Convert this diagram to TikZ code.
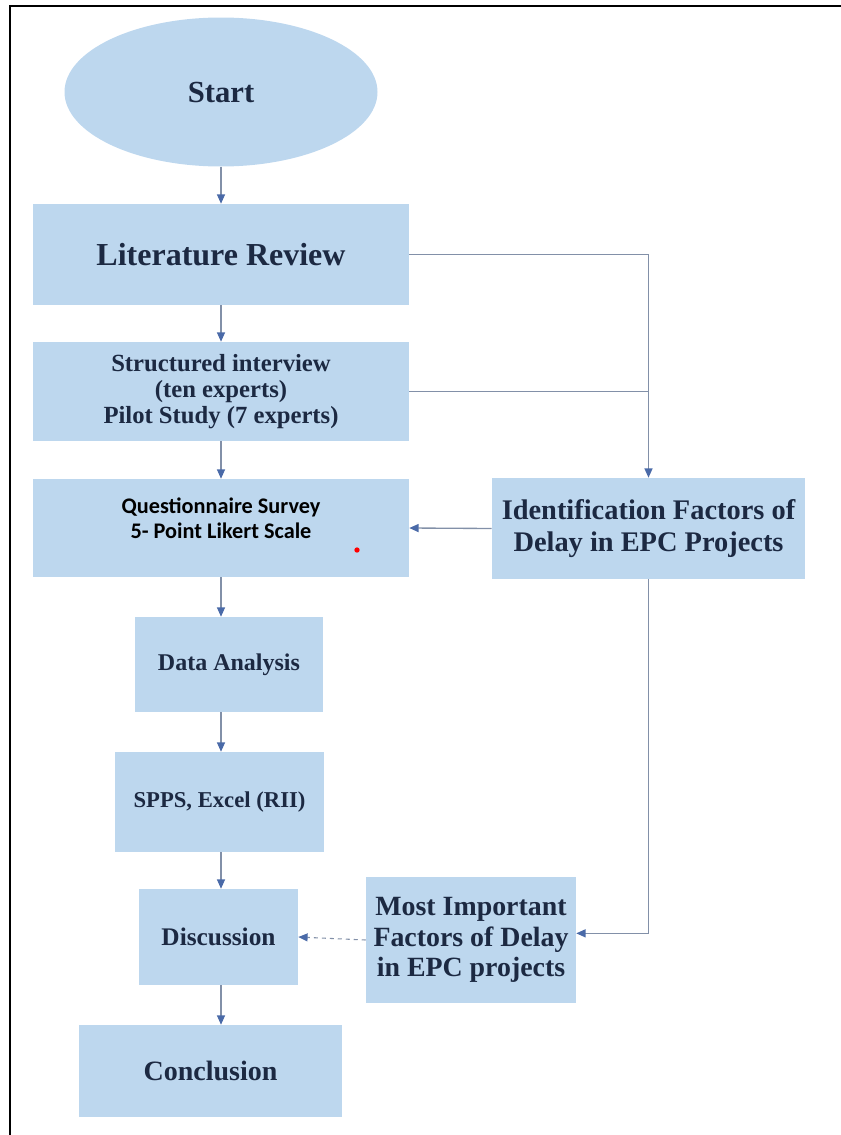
\documentclass[tikz,border=0pt]{standalone}
\usepackage{fontspec}
\setmainfont{Liberation Serif}
\newfontfamily\calibfont{Carlito}
\usetikzlibrary{shapes.geometric,arrows.meta}

\definecolor{boxblue}{HTML}{BDD7EE}
\definecolor{txtnavy}{HTML}{1C2942}
\definecolor{linegray}{HTML}{8290A8}
\definecolor{tipblue}{HTML}{4A6AA8}

\begin{document}
\begin{tikzpicture}[x=0.75pt, y=-0.75pt,
    stepbox/.style 2 args={rectangle, fill=boxblue, text=txtnavy, align=center, inner sep=0pt,
      minimum width=#1*\px, minimum height=#2*\px},
    flow/.style={draw=linegray, line width=1pt, -{Triangle[length=7pt, width=6pt, color=tipblue]}}]

      % Definitions
      \def\px{0.75pt}   % One pixel of the reference
      \def\fnt#1#2{\fontsize{#1}{#2}\selectfont\bfseries}   % Bold text of a given size

      \useasboundingbox (0,0) rectangle (841,1135);

      % Frame, only its top and left edges show
      \draw [line width=2pt] (841,6) -- (10,6) -- (10,1135);

      % Main column
      \node [ellipse, fill=boxblue, text=txtnavy, inner sep=0pt, minimum width=313*\px, minimum height=149*\px, font=\fnt{23}{27}] (start) at (221,92) {Start};
      \node [stepbox={376}{101}, font=\fnt{24}{28}] (lit) at (221,254.5) {Literature Review};
      \node [stepbox={376}{99}, font=\fnt{18.5}{19.5}] (intv) at (221,391.5) {Structured interview\\(ten experts)\\Pilot Study (7 experts)};
      \node [stepbox={376}{98}, text=black, font=\calibfont\fnt{16.7}{19}] (quest) at (221,528) {Questionnaire Survey\\5- Point Likert Scale\\[-4pt]\mbox{}};
      \node [stepbox={188}{95}, font=\fnt{18}{21}] (data) at (229,664.5) {Data Analysis};
      \node [stepbox={209}{100}, font=\fnt{17}{20}] (spss) at (219.5,802) {SPPS, Excel (RII)};
      \node [stepbox={159}{96}, font=\fnt{19}{22}] (disc) at (218.5,937) {Discussion};
      \node [stepbox={263}{92}, font=\fnt{21}{24}] (concl) at (210.5,1071) {Conclusion};

      % Side column
      \node [stepbox={313}{101}, font=\fnt{21.3}{24}] (ident) at (648.5,528.5) {Identification Factors of\\Delay in EPC Projects};
      \node [stepbox={210}{126}, font=\fnt{20.9}{23}] (most) at (471,940) {Most Important\\Factors of Delay\\in EPC projects};

      \fill [red] (357,550) circle [radius=2pt];   % Stray dot in the survey box

      % Arrows down the main column
      \draw [flow] (start) -- (lit);
      \draw [flow] (lit) -- (intv);
      \draw [flow] (intv) -- (quest);
      \draw [flow] (quest.south) -- (quest.south |- data.north);
      \draw [flow] (quest.south |- data.south) -- (quest.south |- spss.north);
      \draw [flow] (quest.south |- spss.south) -- (quest.south |- disc.north);
      \draw [flow] (quest.south |- disc.south) -- (quest.south |- concl.north);

      % Links to the side column
      \draw [flow] (lit.east) -| (ident.north);
      \draw [draw=linegray, line width=1pt] (intv.east) -- (intv.east -| ident.north);
      \draw [flow] (ident.west) -- (quest.east);
      \draw [flow] (ident.south) |- ([yshift=5pt]most.east);
      \draw [flow, dashed, line width=0.8pt] (most.west) -- (disc.east);

   \end{tikzpicture}
\end{document}
